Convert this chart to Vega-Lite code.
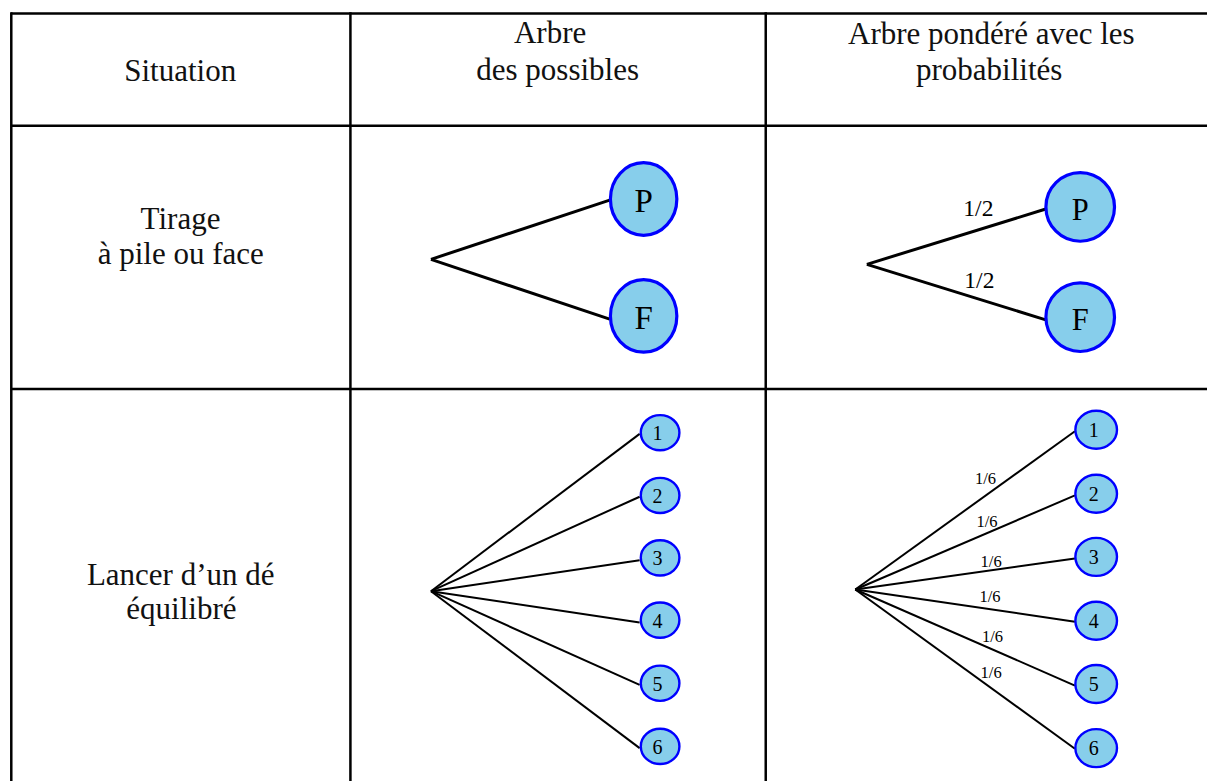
{
  "$schema": "https://vega.github.io/schema/vega-lite/v6.json",
  "width": 1209,
  "height": 783,
  "padding": 0,
  "autosize": {"type": "fit", "contains": "padding"},
  "background": "white",
  "config": {"view": {"stroke": null}},
  "datasets": {
    "grid": [
      {"x": 11, "y": 13.5, "x2": 1209, "y2": 13.5},
      {"x": 11, "y": 126, "x2": 1209, "y2": 126},
      {"x": 11, "y": 390, "x2": 1209, "y2": 390},
      {"x": 11.3, "y": 12.3, "x2": 11.3, "y2": 783},
      {"x": 351, "y": 12.3, "x2": 351, "y2": 783},
      {"x": 767, "y": 12.3, "x2": 767, "y2": 783}
    ],
    "branches": [
      {"tree": "coin_a", "x": 431.7, "y": 260, "x2": 610.7, "y2": 200.7},
      {"tree": "coin_a", "x": 431.7, "y": 260, "x2": 610.7, "y2": 320},
      {"tree": "coin_b", "x": 868.3, "y": 265, "x2": 1048.3, "y2": 209.3},
      {"tree": "coin_b", "x": 868.3, "y": 265, "x2": 1048.3, "y2": 321},
      {"tree": "dice_a", "x": 431.7, "y": 592.7, "x2": 640.7, "y2": 435},
      {"tree": "dice_a", "x": 431.7, "y": 592.7, "x2": 640.7, "y2": 498},
      {"tree": "dice_a", "x": 431.7, "y": 592.7, "x2": 640.7, "y2": 561.7},
      {"tree": "dice_a", "x": 431.7, "y": 592.7, "x2": 640.7, "y2": 624},
      {"tree": "dice_a", "x": 431.7, "y": 592.7, "x2": 640.7, "y2": 686.7},
      {"tree": "dice_a", "x": 431.7, "y": 592.7, "x2": 640.7, "y2": 750},
      {"tree": "dice_b", "x": 856.7, "y": 591, "x2": 1076.7, "y2": 432.3},
      {"tree": "dice_b", "x": 856.7, "y": 591, "x2": 1076.7, "y2": 496.7},
      {"tree": "dice_b", "x": 856.7, "y": 591, "x2": 1076.7, "y2": 560},
      {"tree": "dice_b", "x": 856.7, "y": 591, "x2": 1076.7, "y2": 623.3},
      {"tree": "dice_b", "x": 856.7, "y": 591, "x2": 1076.7, "y2": 687.3},
      {"tree": "dice_b", "x": 856.7, "y": 591, "x2": 1076.7, "y2": 750.7}
    ],
    "nodes": [
      {"tree": "coin_a", "label": "P", "x": 644.7, "y": 199.5},
      {"tree": "coin_a", "label": "F", "x": 644.7, "y": 316.7},
      {"tree": "coin_b", "label": "P", "x": 1082, "y": 207.5},
      {"tree": "coin_b", "label": "F", "x": 1082, "y": 318},
      {"tree": "dice_a", "label": "1", "x": 661.2, "y": 433.8},
      {"tree": "dice_a", "label": "2", "x": 661.2, "y": 496.7},
      {"tree": "dice_a", "label": "3", "x": 661.2, "y": 559.3},
      {"tree": "dice_a", "label": "4", "x": 661.2, "y": 621.7},
      {"tree": "dice_a", "label": "5", "x": 661.2, "y": 685},
      {"tree": "dice_a", "label": "6", "x": 661.2, "y": 748.3},
      {"tree": "dice_b", "label": "1", "x": 1098, "y": 430.8},
      {"tree": "dice_b", "label": "2", "x": 1098, "y": 495},
      {"tree": "dice_b", "label": "3", "x": 1098, "y": 558.3},
      {"tree": "dice_b", "label": "4", "x": 1098, "y": 622.3},
      {"tree": "dice_b", "label": "5", "x": 1098, "y": 685.7},
      {"tree": "dice_b", "label": "6", "x": 1098, "y": 750}
    ],
    "probs": [
      {"kind": "half", "label": "1/2", "x": 980, "y": 216.7},
      {"kind": "half", "label": "1/2", "x": 981, "y": 288.3},
      {"kind": "sixth", "label": "1/6", "x": 987.2, "y": 485},
      {"kind": "sixth", "label": "1/6", "x": 988.7, "y": 528.3},
      {"kind": "sixth", "label": "1/6", "x": 992.8, "y": 568.3},
      {"kind": "sixth", "label": "1/6", "x": 991.7, "y": 604},
      {"kind": "sixth", "label": "1/6", "x": 994.2, "y": 644},
      {"kind": "sixth", "label": "1/6", "x": 992.8, "y": 680}
    ],
    "texts": [
      {"label": "Situation", "x": 180.5, "y": 81.7},
      {"label": "Arbre", "x": 551, "y": 43.3},
      {"label": "des possibles", "x": 558.6, "y": 80.7},
      {"label": "Arbre pondéré avec les", "x": 993, "y": 44.3},
      {"label": "probabilités", "x": 990.8, "y": 80},
      {"label": "Tirage", "x": 180.8, "y": 229.3},
      {"label": "à pile ou face", "x": 181, "y": 265},
      {"label": "Lancer d’un dé", "x": 181, "y": 586.7},
      {"label": "équilibré", "x": 181.7, "y": 621}
    ]
  },
  "encoding": {
    "x": {"field": "x", "type": "quantitative", "scale": {"domain": [0, 1209], "nice": false, "zero": false}, "axis": null},
    "y": {"field": "y", "type": "quantitative", "scale": {"domain": [0, 783], "nice": false, "zero": false, "reverse": true}, "axis": null}
  },
  "layer": [
    {
      "data": {"name": "grid"},
      "mark": {"type": "rule", "color": "black", "strokeWidth": 2.5},
      "encoding": {"x2": {"field": "x2"}, "y2": {"field": "y2"}}
    },
    {
      "data": {"name": "branches"},
      "transform": [{"filter": "indexof(datum.tree, 'coin') === 0"}],
      "mark": {"type": "rule", "color": "black", "strokeWidth": 3},
      "encoding": {"x2": {"field": "x2"}, "y2": {"field": "y2"}}
    },
    {
      "data": {"name": "branches"},
      "transform": [{"filter": "indexof(datum.tree, 'dice') === 0"}],
      "mark": {"type": "rule", "color": "black", "strokeWidth": 2},
      "encoding": {"x2": {"field": "x2"}, "y2": {"field": "y2"}}
    },
    {
      "data": {"name": "nodes"},
      "transform": [{"filter": "datum.tree === 'coin_a'"}],
      "mark": {"type": "point", "filled": true, "fill": "#87CEEB", "stroke": "#0000FF", "strokeWidth": 3.2, "opacity": 1, "fillOpacity": 1, "size": 5271, "shape": "M -0.915 0 A 0.915 1 0 1 1 0.915 0 A 0.915 1 0 1 1 -0.915 0 Z"}
    },
    {
      "data": {"name": "nodes"},
      "transform": [{"filter": "datum.tree === 'coin_b'"}],
      "mark": {"type": "point", "filled": true, "fill": "#87CEEB", "stroke": "#0000FF", "strokeWidth": 3.2, "opacity": 1, "fillOpacity": 1, "size": 4706, "shape": "circle"}
    },
    {
      "data": {"name": "nodes"},
      "transform": [{"filter": "datum.tree === 'dice_a'"}],
      "mark": {"type": "point", "filled": true, "fill": "#87CEEB", "stroke": "#0000FF", "strokeWidth": 2.4, "opacity": 1, "fillOpacity": 1, "size": 1490, "shape": "M -1 0 A 1 0.912 0 1 1 1 0 A 1 0.912 0 1 1 -1 0 Z"}
    },
    {
      "data": {"name": "nodes"},
      "transform": [{"filter": "datum.tree === 'dice_b'"}],
      "mark": {"type": "point", "filled": true, "fill": "#87CEEB", "stroke": "#0000FF", "strokeWidth": 2.4, "opacity": 1, "fillOpacity": 1, "size": 1731, "shape": "M -1 0 A 1 0.913 0 1 1 1 0 A 1 0.913 0 1 1 -1 0 Z"}
    },
    {
      "data": {"name": "nodes"},
      "transform": [{"filter": "datum.tree === 'coin_a'"}],
      "mark": {"type": "text", "font": "Liberation Serif", "fontSize": 33, "color": "black", "align": "center", "baseline": "alphabetic", "dy": 13.5},
      "encoding": {"text": {"field": "label"}}
    },
    {
      "data": {"name": "nodes"},
      "transform": [{"filter": "datum.tree === 'coin_b'"}],
      "mark": {"type": "text", "font": "Liberation Serif", "fontSize": 30.5, "color": "black", "align": "center", "baseline": "alphabetic", "dy": 13},
      "encoding": {"text": {"field": "label"}}
    },
    {
      "data": {"name": "nodes"},
      "transform": [{"filter": "indexof(datum.tree, 'dice') === 0"}],
      "mark": {"type": "text", "font": "Liberation Serif", "fontSize": 20, "color": "black", "align": "center", "baseline": "alphabetic", "dy": 7.4, "dx": -2.5},
      "encoding": {"text": {"field": "label"}}
    },
    {
      "data": {"name": "probs"},
      "transform": [{"filter": "datum.kind === 'half'"}],
      "mark": {"type": "text", "font": "Liberation Serif", "fontSize": 23.5, "color": "black", "align": "center", "baseline": "alphabetic"},
      "encoding": {"text": {"field": "label"}}
    },
    {
      "data": {"name": "probs"},
      "transform": [{"filter": "datum.kind === 'sixth'"}],
      "mark": {"type": "text", "font": "Liberation Serif", "fontSize": 16.5, "color": "black", "align": "center", "baseline": "alphabetic"},
      "encoding": {"text": {"field": "label"}}
    },
    {
      "data": {"name": "texts"},
      "mark": {"type": "text", "font": "Liberation Serif", "fontSize": 31, "color": "#111111", "align": "center", "baseline": "alphabetic"},
      "encoding": {"text": {"field": "label"}}
    }
  ]
}
